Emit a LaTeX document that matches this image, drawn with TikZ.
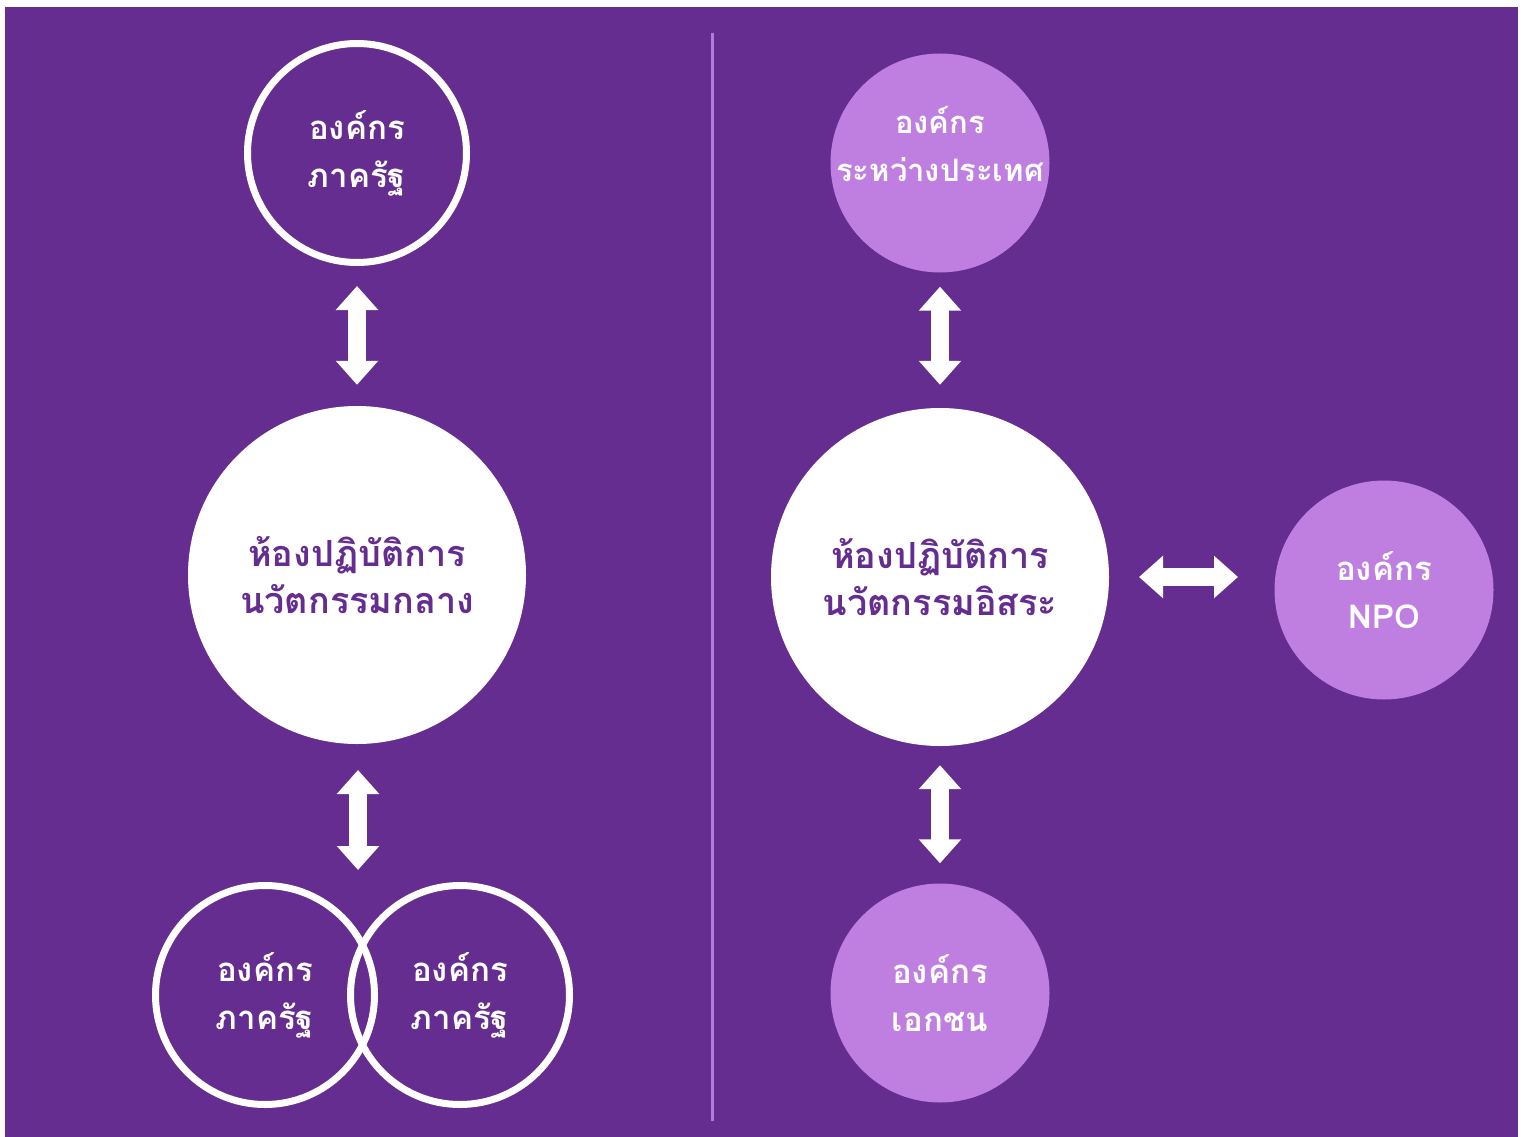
\documentclass[tikz,border=0pt]{standalone}
\usepackage{fontspec}
\newfontfamily\thaifont[Script=Thai]{Loma}
\usetikzlibrary{arrows.meta}
\definecolor{bgpurple}{HTML}{652D90}
\definecolor{lightpurple}{HTML}{BF7FE0}
\definecolor{divcol}{HTML}{B57ADB}
\begin{document}
\begin{tikzpicture}[x=1pt,y=-1pt,
  lbl/.style={align=center, font=\thaifont\bfseries\fontsize{33}{48}\selectfont},
  biglbl/.style={align=center, font=\thaifont\bfseries\fontsize{36}{47}\selectfont},
  ring/.style={circle, draw=white, line width=7pt, minimum size=219pt, inner sep=0pt, text=white, lbl},
  bigc/.style={circle, fill=white, minimum size=338pt, inner sep=0pt, text=bgpurple, biglbl},
  soft/.style={circle, fill=lightpurple, minimum size=219pt, inner sep=0pt, text=white, lbl},
  barrow/.style={draw=white, line width=18pt, {Triangle[length=24pt,width=41pt]}-{Triangle[length=24pt,width=41pt]}}]
\useasboundingbox (0,0) rectangle (1523,1137);
\fill[white] (0,0) rectangle (1523,1137);
\fill[bgpurple] (5,7) rectangle (1518,1137);
\draw[divcol, line width=3pt] (712.5,33) -- (712.5,1121);
% left side
\node[ring] (gov) at (357,153) {องค์กร\\ภาครัฐ};
\node[bigc] (central) at (357,575) {ห้องปฏิบัติการ\\นวัตกรรมกลาง};
\node[ring] (govA) at (265,995) {องค์กร\\ภาครัฐ};
\node[ring] (govB) at (460,995) {องค์กร\\ภาครัฐ};
\coordinate (pairtop) at (358,883);
\coordinate (centralbot) at (358,744);
% right side
\node[soft, label={[lbl, text=white, yshift=19pt, font=\thaifont\bfseries\fontsize{31}{48}\selectfont]center:{องค์กร\\ระหว่างประเทศ}}] (intl) at (940,163) {};
\node[bigc] (indep) at (940,577) {ห้องปฏิบัติการ\\นวัตกรรมอิสระ};
\node[soft] (npo) at (1384,590) {องค์กร\\NPO};
\node[soft, yshift=0pt] (priv) at (940,993) {องค์กร\\เอกชน};
\coordinate (indepeast) at (1109,577);
\coordinate (npowest) at (1274,577);
% arrows
\draw[barrow, shorten <=20pt, shorten >=21pt] (gov.south) -- (central.north);
\draw[barrow, shorten <=26pt, shorten >=13pt] (centralbot) -- (pairtop);
\draw[barrow, shorten <=14pt, shorten >=23pt] (intl.south) -- (indep.north);
\draw[barrow, shorten <=19pt, shorten >=20pt] (indep.south) -- (priv.north);
\draw[barrow, shorten <=30pt, shorten >=36pt] (indepeast) -- (npowest);
\end{tikzpicture}
\end{document}
